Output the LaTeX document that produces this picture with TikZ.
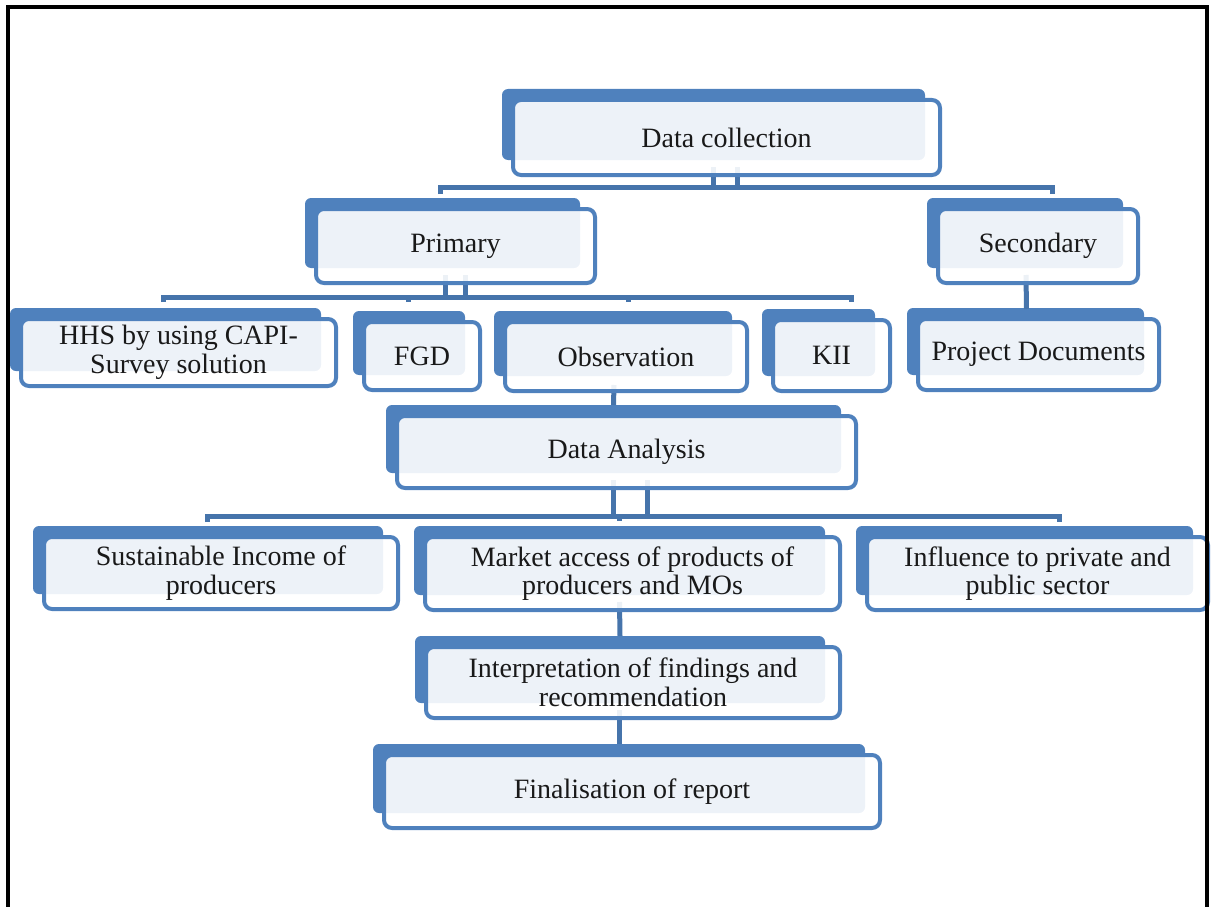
\documentclass[tikz,border=0pt]{standalone}
\usepackage{fontspec}
\setmainfont{Liberation Serif}
\usepackage{pgf,tikz}
\usetikzlibrary{calc,backgrounds}

\definecolor{boxblue}{HTML}{4F81BD}
\definecolor{linkblue}{HTML}{4674AB}

\tikzset{
  frontbox/.style={draw=boxblue, line width=4pt, rounded corners=8pt, fill=white,
    fill opacity=0.9, text opacity=1, align=center, inner sep=0pt,
    text=black!90, font=\fontsize{28}{28.5}\selectfont},
  boxsize/.style 2 args={minimum width=#1pt, minimum height=#2pt},
  backbox/.style={fill=boxblue, rounded corners=6pt},
  link/.style={draw=linkblue, line width=5pt},
}

\begin{document}
\begin{tikzpicture}[x=1pt,y=-1pt]
\useasboundingbox (0,0) rectangle (1211,907);

% front boxes
\node[frontbox, boxsize={427}{75}] (collect) at (726.5,137.5) {Data collection};
\node[frontbox, boxsize={279}{74}] (primary) at (455.5,246) {Primary};
\node[frontbox, boxsize={200}{74}] (secondary) at (1038,246) {Secondary};
\node[frontbox, boxsize={315}{67}] (hhs) at (178.5,352.5) {HHS by using CAPI-\\Survey solution};
\node[frontbox, boxsize={116}{68}] (fgd) at (422,356) {FGD};
\node[frontbox, boxsize={242}{69}] (obs) at (626,356.5) {Observation};
\node[frontbox, boxsize={117}{71}] (kii) at (831.5,355.5) {KII};
\node[frontbox, boxsize={241}{71}] (projdoc) at (1038.5,354.5) {Project Documents};
\node[frontbox, boxsize={459}{72}] (analysis) at (626.5,452) {Data Analysis};
\node[frontbox, boxsize={354}{72}] (income) at (221,573) {Sustainable Income of\\producers};
\node[frontbox, boxsize={415}{73}] (market) at (632.5,573.5) {Market access of products of\\producers and MOs};
\node[frontbox, boxsize={341}{73}] (influence) at (1037.5,573.5) {Influence to private and\\public sector};
\node[frontbox, boxsize={414}{71}] (interp) at (633,682.5) {Interpretation of findings and\\recommendation};
\node[frontbox, boxsize={496}{73}] (final) at (632,791.5) {Finalisation of report};

\begin{pgfonlayer}{background}
% shadow plates behind every box
\foreach \n in {collect,primary,secondary,hhs,fgd,obs,kii,projdoc,analysis,income,market,influence,interp,final}
  \fill[backbox] ($(\n.north west)+(-9,-9)$) rectangle ($(\n.south east)+(-17,-17)$);

% data collection -> primary / secondary
\draw[link] ($(collect.south)+(-13,-10)$) -- ++(0,20);
\draw[link] ($(collect.south)+(11,-10)$) -- ++(0,20);
\draw[link] ($(primary.north)+(-15,-13)$) -- ++(0,-7) -| ($(secondary.north)+(14,-13)$);

% primary -> methods
\draw[link] ($(primary.south)+(-10,-10)$) -- ++(0,22);
\draw[link] ($(primary.south)+(10,-10)$) -- ++(0,22);
\draw[link] ($(hhs.north)+(-15,-15)$) -- ++(0,-5) -| ($(kii.north)+(20,-16)$);
\draw[link] ($(fgd.north)+(-14,-23)$) -- ++(0,5);
\draw[link] ($(obs.north)+(2,-23)$) -- ++(0,5);

% secondary -> documents
\draw[link] ($(secondary.south)+(-12,-10)$) -- ($(projdoc.north)+(-12,-8)$);

% observation -> analysis
\draw[link] ($(obs.south)+(-12,-8)$) -- ($(analysis.north)+(-13,-9)$);

% analysis -> themes
\draw[link] ($(analysis.south)+(-13,-10)$) -- ++(0,36);
\draw[link] ($(analysis.south)+(21,-10)$) -- ++(0,36);
\draw[link] ($(income.north)+(-14,-13)$) -- ++(0,-6) -| ($(influence.north)+(22,-13)$);
\draw[link] ($(market.north)+(-13,-19)$) -- ++(0,5);

% market -> interpretation -> report
\draw[link] ($(market.south)+(-13,-10)$) -- ($(interp.north)+(-13,-9)$);
\draw[link] ($(interp.south)+(-14,-10)$) -- ($(final.north)+(-13,-9)$);
\end{pgfonlayer}

% page frame
\draw[line width=3.5pt] (8,907) -- (8,7) -- (1207,7) -- (1207,907);
\end{tikzpicture}
\end{document}
